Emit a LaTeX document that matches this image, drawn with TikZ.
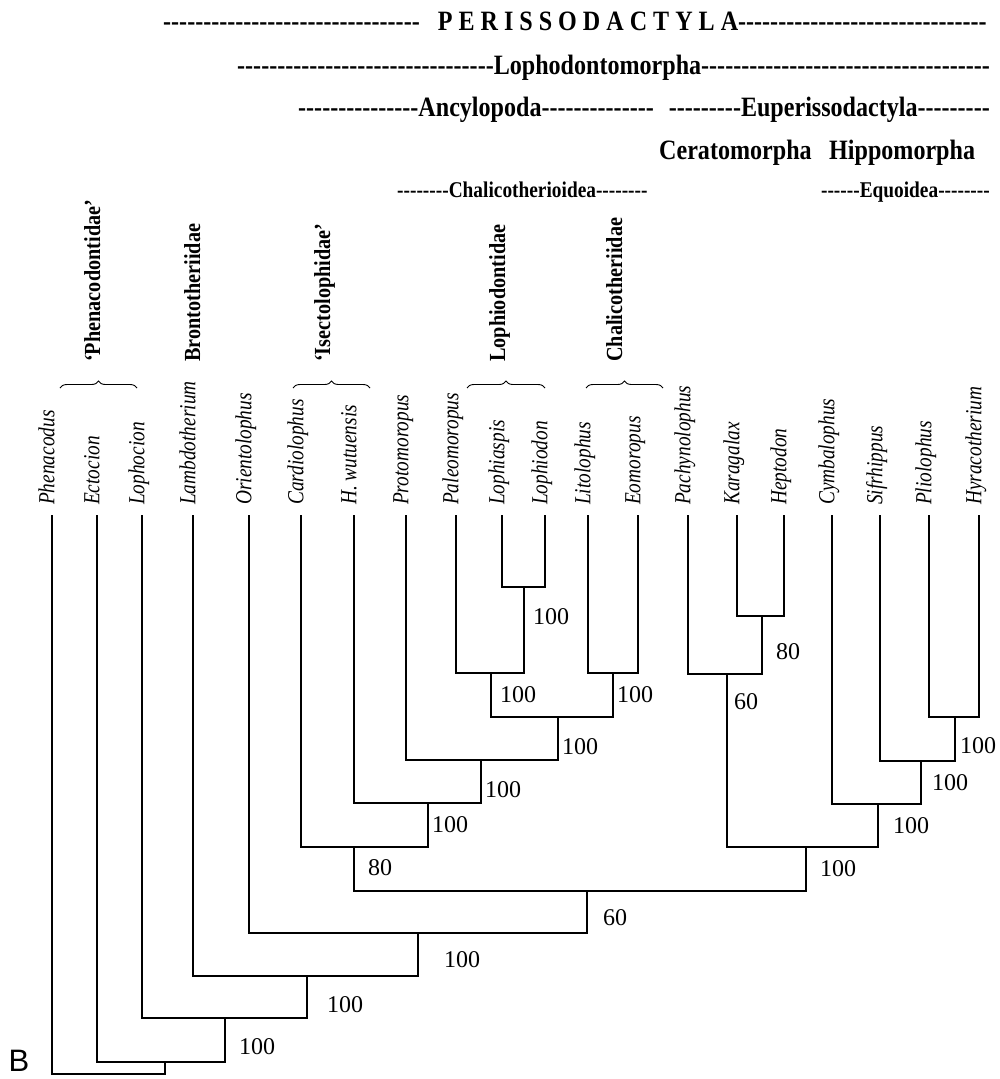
\documentclass[tikz,border=0pt]{standalone}
\usepackage{fontspec}
\setmainfont{Liberation Serif}
\newfontfamily\condserif[FakeStretch=0.88]{Liberation Serif}
\newfontfamily\condleaf[FakeStretch=0.84]{Liberation Serif}
\newfontfamily\condhdr[FakeStretch=0.86]{Liberation Serif}
\newfontfamily\sansB{Liberation Sans}
\usetikzlibrary{decorations.pathreplacing}
\newcommand\dashrun[1]{\foreach\dd in {1,...,#1}{\mbox{-}}}
\begin{document}
\begin{tikzpicture}[x=1pt,y=-1pt,
  branch/.style={line width=1.3pt, line cap=rect, line join=miter},
  leaflab/.style={rotate=90, anchor=mid west, inner sep=0pt, font=\condleaf\itshape\fontsize{23}{23}\selectfont},
  famlab/.style={rotate=90, anchor=base west, inner sep=0pt, font=\condserif\bfseries\fontsize{23}{23}\selectfont},
  bs/.style={inner sep=0pt, font=\fontsize{24}{24}\selectfont},
  hdr/.style={inner sep=0pt, font=\condhdr\bfseries\fontsize{28}{28}\selectfont},
  hdrsmall/.style={inner sep=0pt, font=\condhdr\bfseries\fontsize{22.5}{23}\selectfont},
  bracestyle/.style={line width=0.9pt, decorate, decoration={brace, amplitude=7pt}}]
\useasboundingbox (0,0) rectangle (1000,1079);

% ---------- header ----------
\node[hdr, anchor=base west] (perisso) at (163,30) {\dashrun{32}\hspace{12pt} P E R I S S O D A C T Y L A\dashrun{31}};
\node[hdr, anchor=base west] (lophodonto) at (237,74) {\dashrun{32}Lophodontomorpha\dashrun{36}};
\node[hdr, anchor=base west] (ancylo) at (298,116) {\dashrun{15}Ancylopoda\dashrun{14}};
\node[hdr, anchor=base east] (euperisso) at (990,116) {\dashrun{9}Euperissodactyla\dashrun{9}};
\node[hdr, anchor=base west] (cerato) at (659,159) {Ceratomorpha};
\node[hdr, anchor=base west] (hippo) at (829,159) {Hippomorpha};
\node[hdrsmall, anchor=base west] (chalicoid) at (397,197) {\dashrun{8}Chalicotherioidea\dashrun{8}};
\node[hdrsmall, anchor=base east] (equoid) at (990,197) {\dashrun{6}Equoidea\dashrun{8}};

% ---------- family labels and braces ----------
\node[famlab] (fPhen) at (100,362) {‘Phenacodontidae’};
\node[famlab] (fBront) at (200,362) {Brontotheriidae};
\node[famlab] (fIsect) at (330,362) {‘Isectolophidae’};
\node[famlab] (fLophd) at (505,362) {Lophiodontidae};
\node[famlab] (fChal) at (622,362) {Chalicotheriidae};

\coordinate (br1a) at (60,388);  \coordinate (br1b) at (137,388);
\coordinate (br2a) at (293,388); \coordinate (br2b) at (370,388);
\coordinate (br3a) at (467,388); \coordinate (br3b) at (545,388);
\coordinate (br4a) at (586,388); \coordinate (br4b) at (663,388);
\draw[bracestyle] (br1a) -- (br1b);
\draw[bracestyle] (br2a) -- (br2b);
\draw[bracestyle] (br3a) -- (br3b);
\draw[bracestyle] (br4a) -- (br4b);

% ---------- leaf labels ----------
\foreach \nm/\xx/\txt in {
  phen/52/Phenacodus, ecto/97/Ectocion, loph/142/Lophocion, lamb/193/Lambdotherium,
  orie/249/Orientolophus, card/301/Cardiolophus, hwut/354/H. wutuensis, prot/406/Protomoropus,
  pale/456/Paleomoropus, lasp/502/Lophiaspis, ldon/545/Lophiodon, lito/588/Litolophus,
  eomo/638/Eomoropus, pach/688/Pachynolophus, kara/737/Karagalax, hept/784/Heptodon,
  cymb/832/Cymbalophus, sifr/880/Sifrhippus, plio/929/Pliolophus, hyra/979/Hyracotherium}{
  \node[leaflab] (L\nm) at (\xx,505) {\txt};
  \coordinate (\nm) at (\xx,516);
}

% ---------- internal nodes ----------
\coordinate (n1) at (524,587);
\coordinate (n2) at (491,673);
\coordinate (n3) at (613,673);
\coordinate (n4) at (558,717);
\coordinate (n5) at (481,760);
\coordinate (n6) at (428,803);
\coordinate (n7) at (354,847);
\coordinate (n8) at (762,616);
\coordinate (n9) at (727,674);
\coordinate (n10) at (955,717);
\coordinate (n11) at (921,761);
\coordinate (n12) at (878,804);
\coordinate (n13) at (806,847);
\coordinate (n14) at (587,891);
\coordinate (n15) at (418,933);
\coordinate (n16) at (307,976);
\coordinate (n17) at (225,1018);
\coordinate (n18) at (165,1062);
\coordinate (root) at (108,1074);

% ---------- branches ----------
\draw[branch] (lasp) |- (n1);  \draw[branch] (ldon) |- (n1);
\draw[branch] (pale) |- (n2);  \draw[branch] (n1) |- (n2);
\draw[branch] (lito) |- (n3);  \draw[branch] (eomo) |- (n3);
\draw[branch] (n2) |- (n4);    \draw[branch] (n3) |- (n4);
\draw[branch] (prot) |- (n5);  \draw[branch] (n4) |- (n5);
\draw[branch] (hwut) |- (n6);  \draw[branch] (n5) |- (n6);
\draw[branch] (card) |- (n7);  \draw[branch] (n6) |- (n7);
\draw[branch] (kara) |- (n8);  \draw[branch] (hept) |- (n8);
\draw[branch] (pach) |- (n9);  \draw[branch] (n8) |- (n9);
\draw[branch] (plio) |- (n10); \draw[branch] (hyra) |- (n10);
\draw[branch] (sifr) |- (n11); \draw[branch] (n10) |- (n11);
\draw[branch] (cymb) |- (n12); \draw[branch] (n11) |- (n12);
\draw[branch] (n9) |- (n13);   \draw[branch] (n12) |- (n13);
\draw[branch] (n7) |- (n14);   \draw[branch] (n13) |- (n14);
\draw[branch] (orie) |- (n15); \draw[branch] (n14) |- (n15);
\draw[branch] (lamb) |- (n16); \draw[branch] (n15) |- (n16);
\draw[branch] (loph) |- (n17); \draw[branch] (n16) |- (n17);
\draw[branch] (ecto) |- (n18); \draw[branch] (n17) |- (n18);
\draw[branch] (phen) |- (root); \draw[branch] (n18) |- (root);

% ---------- support values ----------
\node[bs] (b1) at (551,617) {100};
\node[bs] (b2) at (518,695) {100};
\node[bs] (b3) at (635,695) {100};
\node[bs] (b4) at (580,747) {100};
\node[bs] (b5) at (503,790) {100};
\node[bs] (b6) at (450,825) {100};
\node[bs] (b7) at (380,868) {80};
\node[bs] (b8) at (788,652) {80};
\node[bs] (b9) at (746,702) {60};
\node[bs] (b10) at (978,746) {100};
\node[bs] (b11) at (950,783) {100};
\node[bs] (b12) at (911,826) {100};
\node[bs] (b13) at (838,869) {100};
\node[bs] (b14) at (615,918) {60};
\node[bs] (b15) at (462,960) {100};
\node[bs] (b16) at (345,1005) {100};
\node[bs] (b17) at (257,1047) {100};

% ---------- panel letter ----------
\node[inner sep=0pt, font=\sansB\fontsize{31}{31}\selectfont] (panelB) at (19,1061) {B};
\end{tikzpicture}
\end{document}
